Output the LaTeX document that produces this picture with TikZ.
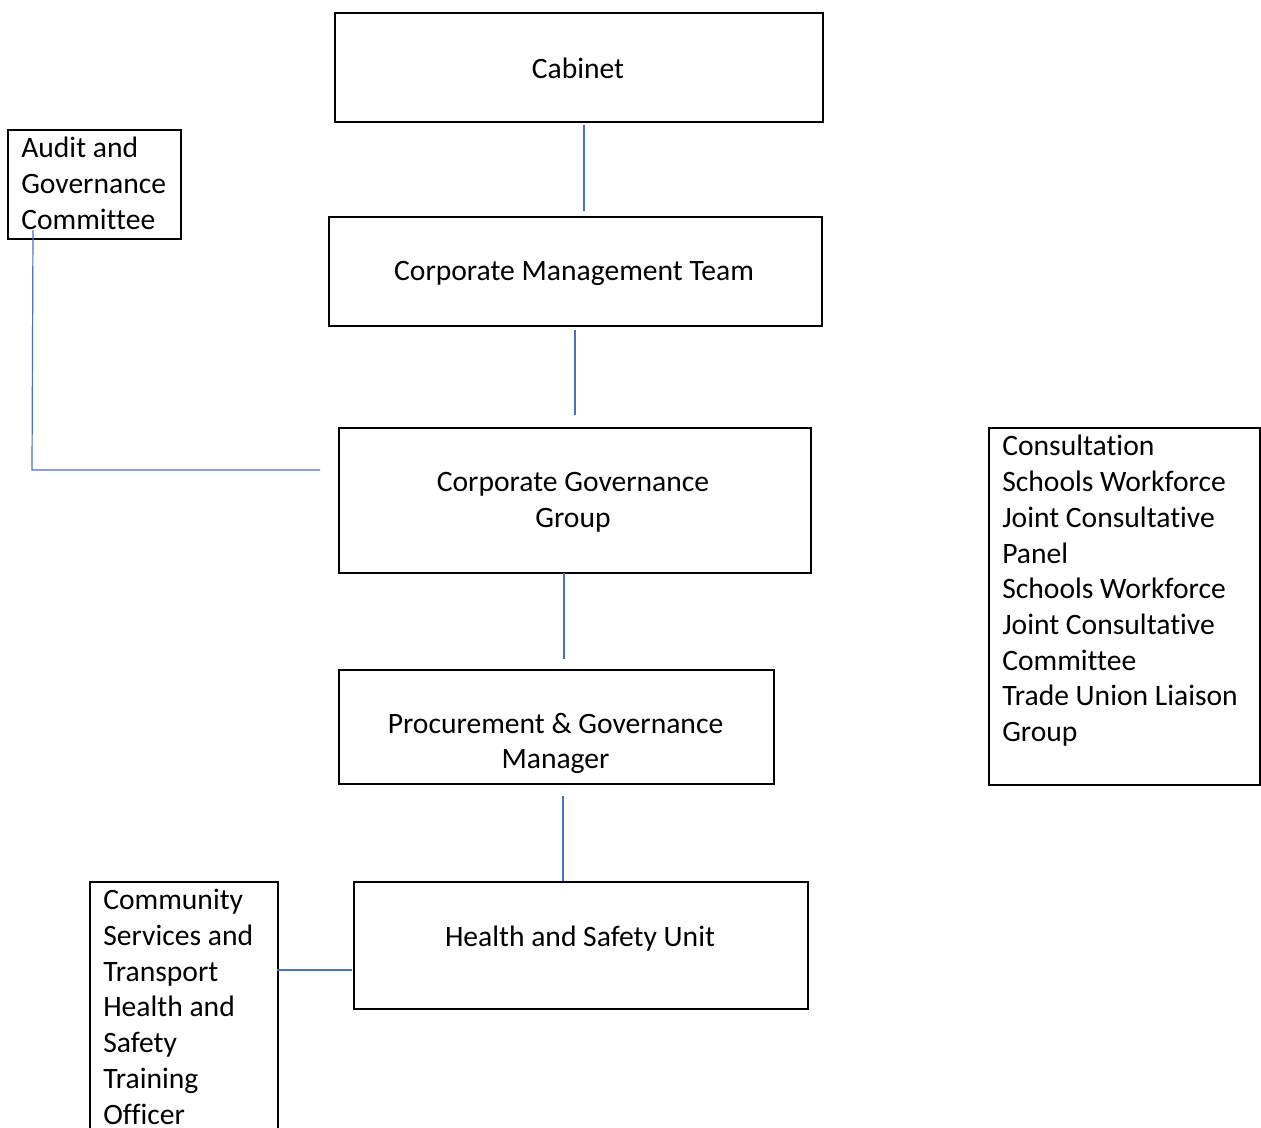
\documentclass[tikz,border=0pt]{standalone}
\usepackage{fontspec}
\setmainfont[Ligatures=NoCommon]{Carlito}
\definecolor{linkblue}{HTML}{4472C4}
\begin{document}
\begin{tikzpicture}[x=0.75pt,y=-0.75pt,
  box/.style={draw=black,line width=1.4pt,inner sep=0pt,anchor=north west},
  txt/.style={font=\fontsize{22.2}{26.8}\selectfont,inner sep=0pt,align=center},
  ltxt/.style={font=\fontsize{22.2}{26.8}\selectfont,inner sep=0pt,align=left,anchor=north west},
  link/.style={draw=linkblue,line width=0.9pt}]
\useasboundingbox (0,0) rectangle (1261,1128);
\clip (0,0) rectangle (1261,1128);
\fill[white] (0,0) rectangle (1261,1128);
% boxes
\node[box,minimum width=488*0.75pt,minimum height=109*0.75pt] (cab) at (334,12) {};
\node[box,minimum width=493*0.75pt,minimum height=109*0.75pt] (cmt) at (328,216) {};
\node[box,minimum width=173*0.75pt,minimum height=109*0.75pt] (aud) at (7,129) {};
\node[box,minimum width=472*0.75pt,minimum height=145*0.75pt] (cgg) at (338,427) {};
\node[box,minimum width=435*0.75pt,minimum height=114*0.75pt] (pgm) at (338,669) {};
\node[box,minimum width=454*0.75pt,minimum height=127*0.75pt] (hsu) at (353,881) {};
\node[box,minimum width=271*0.75pt,minimum height=357*0.75pt] (con) at (988,427) {};
\node[box,minimum width=188*0.75pt,minimum height=280*0.75pt] (com) at (89,881) {};
% texts
\node[txt] (tcab) at (578,68) {Cabinet};
\node[txt] (tcmt) at (574,273) {Corporate Management Team};
\node[txt] (tcgg) at (573,502) {Corporate Governance\\Group};
\node[txt] (tpgm) at (555.5,743.5) {Procurement \& Governance\\Manager};
\node[txt] (thsu) at (580,939) {Health and Safety Unit};
\node[ltxt] (taud) at (21,137) {Audit and\\Governance\\Committee};
\node[ltxt] (tcon) at (1002,435) {Consultation\\Schools Workforce\\Joint Consultative\\Panel\\Schools Workforce\\Joint Consultative\\Committee\\Trade Union Liaison\\Group};
\node[ltxt] (tcom) at (103,889) {Community\\Services and\\Transport\\Health and\\Safety\\Training\\Officer};
% connectors
\coordinate (a1) at (584,125); \coordinate (a2) at (584,211);
\coordinate (b1) at (575,330); \coordinate (b2) at (575,415);
\coordinate (c1) at (564,573); \coordinate (c2) at (564,659);
\coordinate (d1) at (563,796); \coordinate (d2) at (563,881);
\coordinate (e1) at (33,230); \coordinate (e2) at (32,470); \coordinate (e3) at (320,470);
\coordinate (f1) at (277,970); \coordinate (f2) at (352,970);
\draw[link] (a1) -- (a2);
\draw[link] (b1) -- (b2);
\draw[link] (c1) -- (c2);
\draw[link] (d1) -- (d2);
\draw[link] (e1) -- (e2) -- (e3);
\draw[link] (f1) -- (f2);
\end{tikzpicture}
\end{document}
